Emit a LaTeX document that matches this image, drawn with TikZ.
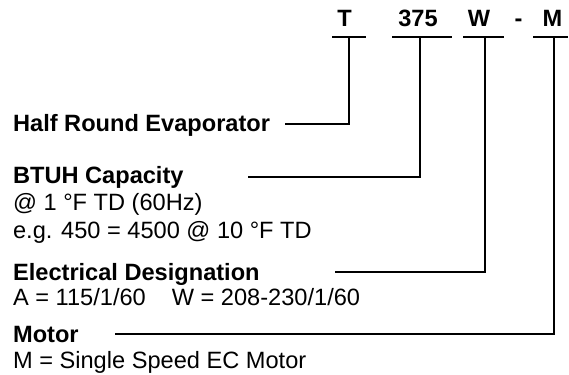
\documentclass[tikz,border=0pt]{standalone}
\usepackage{fontspec}
\setmainfont{Liberation Sans}
\usetikzlibrary{positioning}

\begin{document}
\begin{tikzpicture}[
    x=0.5pt, y=-0.5pt,
    code/.style={font=\fontsize{11.8}{14}\selectfont\bfseries, anchor=base, inner sep=0pt},
    heading/.style={font=\fontsize{11.8}{14}\selectfont\bfseries, anchor=base west, inner sep=0pt},
    detail/.style={font=\fontsize{11.8}{14}\selectfont, anchor=base west, inner sep=0pt},
    leader/.style={line width=1.2pt}
]
    \useasboundingbox (0,0) rectangle (569,375);

    % model number
    \node[code] (codeT) at (344.5,26) {T};
    \node[code] (code375) at (418,26) {375};
    \node[code] (codeW) at (479,26) {W};
    \node[code] (codeDash) at (518.5,26) {-};
    \node[code] (codeM) at (552.5,26) {M};

    \coordinate (uT) at (349,37);
    \coordinate (u375) at (420,37);
    \coordinate (uW) at (485,37);
    \coordinate (uM) at (554,37);
    \draw[leader] (332,37) -- (366,37);
    \draw[leader] (392,37) -- (452,37);
    \draw[leader] (463,37) -- (504,37);
    \draw[leader] (533,37) -- (568,37);

    % descriptions
    \node[heading] (half) at (12.7,132) {Half Round Evaporator};
    \node[heading] (btuh) at (12.7,184) {BTUH Capacity};
    \node[detail] (btuhA) at (12.7,210) {@ 1 °F TD (60Hz)};
    \node[detail] (btuhB) at (12.7,238) {e.g. 450 = 4500 @ 10 °F TD};
    \node[heading] (elec) at (12.7,280) {Electrical Designation};
    \node[detail] (elecA) at (12.7,305) {A = 115/1/60\hspace{13pt}W = 208-230/1/60};
    \node[heading] (motor) at (12.7,342) {Motor};
    \node[detail] (motorA) at (12.7,368) {M = Single Speed EC Motor};

    \coordinate (halfEnd) at (285,124);
    \coordinate (btuhEnd) at (248,177);
    \coordinate (elecEnd) at (335,272);
    \coordinate (motorEnd) at (115,334);

    \draw[leader] (halfEnd) -| (uT);
    \draw[leader] (btuhEnd) -| (u375);
    \draw[leader] (elecEnd) -| (uW);
    \draw[leader] (motorEnd) -| (uM);
\end{tikzpicture}
\end{document}
